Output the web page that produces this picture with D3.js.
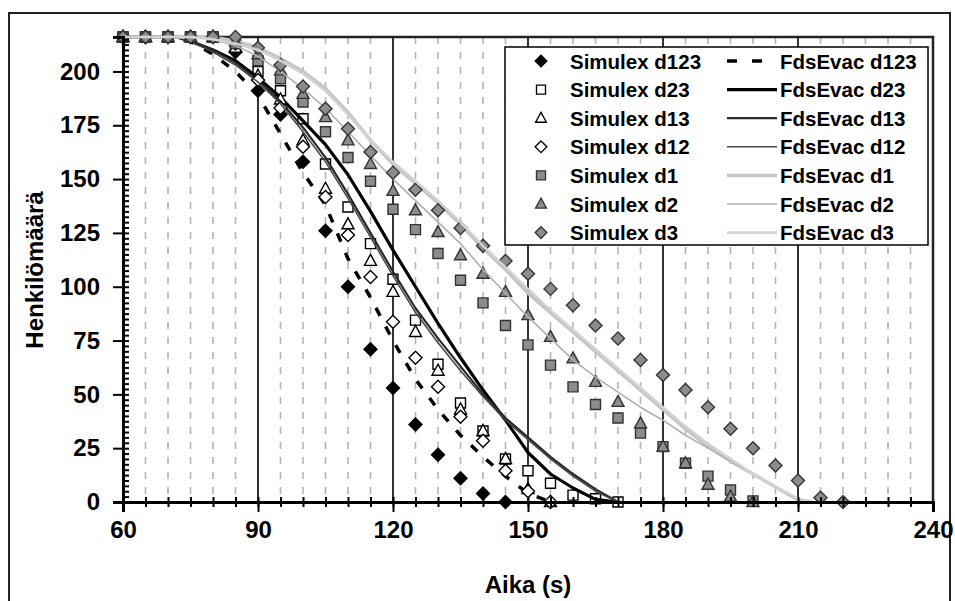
<!DOCTYPE html>
<html>
<head>
<meta charset="utf-8">
<script src="https://cdn.jsdelivr.net/npm/d3@7"></script>
<style>
  body { margin: 0; background: #fff; }
  text { font-family: "Liberation Sans", Arial, sans-serif; font-weight: bold; fill: #000; }
</style>
</head>
<body>
<div id="chart"></div>
<script>
// Simulex: one marker every 5 s
var simTimes = [60,65,70,75,80,85,90,95,100,105,110,115,120,125,130,135,140,145,150,155,160,165,170,175,180,185,190,195,200,205,210,215,220]
var simD123 = [216,216,216,216,216,209,191,180,158,126,100,71,53,36,22,11,4,0]
var simD23  = [216,216,216,216,216,212,200,191,178,157,137,120,103.5,84.5,64,46,33,20,14.5,8.7,3.2,1.5,0]
var simD13  = [216,216,216,216,216,211,198,187,168,145.5,129,112,97.6,79,61,43,33,20,6,0]
var simD12  = [216,216,216,216,216,213,196,183,165,141.7,124,104.5,83.7,67,53.5,39.6,28.5,14.5,5,0]
var simD1   = [216,216,216,216,216,213,205,196.6,185.8,172,160,149,136,126.5,115.4,103,92.5,82,73,63.6,53.5,45.3,39,32,25.7,18,12,5.6,0.5]
var simD2   = [216,216,216,216,216,214,208,200.5,189.6,178.8,168,157,144.5,135.5,125.4,114.6,106,97.6,86.8,76.7,66.7,55.8,46.5,36.5,25.7,18,8,2.5,0]
var simD3   = [216,216,216,216,216,216,211,203,193,182.7,173.4,162.6,153,145,135.5,127.3,119,112,106,99,91.4,82,76,66,59,52,44,34,25,17,10,2,0]

// FdsEvac curves
var fdsTimes = [60,72,75,80,85,90,95,100,105,110,115,120,125,130,135,140,145,150,155,160,165,170,175,180,185,190,195,200,205,210,213]
var fdsD123 = [216,216,214,208,200,189,171,153,138,113,95,75,57,43,31,21,12,4,0]
var fdsD23  = [216,216,214,210,205,197,188,177,166,152,135,117,100,83,67,52,38,23,13,6.5,1.2,0]
var fdsD13  = [216,216,214,210,204,196,186,174,160,143,125,107,90,76,63,50,39,30,21,13,6,0]
var fdsD12  = [216,216,214,209,203,195,185,172,158,141,123,105,88,74,61,49,38,29,20,12,5,0]
var fdsD1   = [216,216,216,216,214,211,206,200,192,181,168,157,148,139,129,118,108,97,88,79,70,61,52,43,34,26,19,13,7,1,0]
var fdsD2   = [216,216,216,215,212,207,200,192,183,172,161,150,140,130,120,108,97,86,76,66,58,51,44,38,31,25,19,13,7,1,0]
var fdsD3   = [216,216,216,215,213,210,205,199,191,180,168,158,149,140,130,119,109,99,89,80,71,62,53,44,35,27,20,13,7,1.5,0]

var xTicks = [60,90,120,150,180,210,240]
var yTicks = [0,25,50,75,100,125,150,175,200]

var series = [
  {sim: "Simulex d123", fds: "FdsEvac d123", sv: simD123, fv: fdsD123, shape: "diamond", fill: "#000", mstroke: "#000", line: "#000", lw: 3.5, dash: "9,12"},
  {sim: "Simulex d23",  fds: "FdsEvac d23",  sv: simD23,  fv: fdsD23,  shape: "square",  fill: "#fff", mstroke: "#000", line: "#000", lw: 3.2},
  {sim: "Simulex d13",  fds: "FdsEvac d13",  sv: simD13,  fv: fdsD13,  shape: "triangle",fill: "#fff", mstroke: "#000", line: "#2a2a2a", lw: 2.2},
  {sim: "Simulex d12",  fds: "FdsEvac d12",  sv: simD12,  fv: fdsD12,  shape: "diamond", fill: "#fff", mstroke: "#000", line: "#444", lw: 1.5},
  {sim: "Simulex d1",   fds: "FdsEvac d1",   sv: simD1,   fv: fdsD1,   shape: "square",  fill: "#8c8c8c", mstroke: "#333", line: "#c4c4c4", lw: 3.5},
  {sim: "Simulex d2",   fds: "FdsEvac d2",   sv: simD2,   fv: fdsD2,   shape: "triangle",fill: "#8c8c8c", mstroke: "#333", line: "#b0b0b0", lw: 1.6},
  {sim: "Simulex d3",   fds: "FdsEvac d3",   sv: simD3,   fv: fdsD3,   shape: "diamond", fill: "#8c8c8c", mstroke: "#333", line: "#d2d2d2", lw: 2.6}
]

var shapes = {
  square: "M-5,-5h10v10h-10Z",
  diamond: "M0,-6.5L6.5,0L0,6.5L-6.5,0Z",
  triangle: "M0,-6.5L6,4.5L-6,4.5Z"
}

var width = 955, height = 601
var x = d3.scaleLinear().domain([60, 240]).range([123, 933])
var y = d3.scaleLinear().domain([0, 216]).range([502, 37])

var svg = d3.select("#chart").append("svg")
  .attr("width", width)
  .attr("height", height)

// outer frame
svg.append("rect")
  .attr("x", 9).attr("y", 13).attr("width", 941).attr("height", 600)
  .attr("fill", "#fff").attr("stroke", "#222").attr("stroke-width", 2)

// grid
svg.append("g").selectAll("line")
  .data(d3.range(65, 240, 5).filter(function(t) { return t % 30 != 0 }))
  .enter().append("line")
  .attr("x1", function(d) { return x(d) }).attr("x2", function(d) { return x(d) })
  .attr("y1", y(216)).attr("y2", y(0))
  .attr("stroke", "#b4b4b4").attr("stroke-width", 1.6).attr("stroke-dasharray", "7,8")

svg.append("g").selectAll("line")
  .data([90, 120, 150, 180, 210])
  .enter().append("line")
  .attr("x1", function(d) { return x(d) }).attr("x2", function(d) { return x(d) })
  .attr("y1", y(216)).attr("y2", y(0))
  .attr("stroke", "#333").attr("stroke-width", 2)

// plot border top/right
svg.append("path")
  .attr("d", "M" + x(60) + "," + y(216) + "H" + x(240) + "V" + y(0))
  .attr("fill", "none").attr("stroke", "#222").attr("stroke-width", 2.5)

var line = d3.line()
  .x(function(d) { return x(d[0]) })
  .y(function(d) { return y(d[1]) })

var plot = svg.append("g")
series.forEach(function(s) {
  var pts = s.sv.map(function(v, i) { return [simTimes[i], v] })
  plot.append("g").selectAll("path")
    .data(pts)
    .enter().append("path")
    .attr("d", shapes[s.shape])
    .attr("transform", function(d) { return "translate(" + x(d[0]) + "," + y(d[1]) + ")" })
    .attr("fill", s.fill).attr("stroke", s.mstroke).attr("stroke-width", 1.4)

  plot.append("path")
    .datum(s.fv.map(function(v, i) { return [fdsTimes[i], v] }))
    .attr("d", line)
    .attr("fill", "none")
    .attr("stroke", s.line)
    .attr("stroke-width", s.lw)
    .attr("stroke-dasharray", s.dash || null)
    .attr("stroke-linejoin", "round")
})

// axes
var yAxis = svg.append("g")
  .attr("transform", "translate(" + x(60) + ",0)")
  .call(d3.axisLeft(y).tickValues(yTicks).tickSize(10).tickPadding(13))
svg.append("g")
  .attr("transform", "translate(" + x(60) + ",0)")
  .call(d3.axisLeft(y).tickValues(d3.range(2.5, 216, 2.5)).tickSize(-6).tickFormat(""))
  .select(".domain").remove()

var xAxis = svg.append("g")
  .attr("transform", "translate(0," + y(0) + ")")
  .call(d3.axisBottom(x).tickValues(xTicks).tickSize(10).tickPadding(9))
svg.append("g")
  .attr("transform", "translate(0," + (y(0) + 5) + ")")
  .call(d3.axisBottom(x).tickValues(d3.range(65, 240, 5)).tickSize(-10).tickFormat(""))
  .select(".domain").remove()

svg.selectAll(".domain").attr("stroke", "#000").attr("stroke-width", 3)
svg.selectAll(".tick line").attr("stroke", "#000").attr("stroke-width", 2)
svg.selectAll(".tick text").style("font-size", "24px").style("font-family", "Liberation Sans, Arial, sans-serif").style("font-weight", "bold")

// axis titles
svg.append("text")
  .attr("x", 528).attr("y", 593)
  .attr("text-anchor", "middle").style("font-size", "24px")
  .text("Aika (s)")
svg.append("text")
  .attr("transform", "translate(43,270) rotate(-90)")
  .attr("text-anchor", "middle").style("font-size", "24px")
  .text("Henkilömäärä")

// legend
var legend = svg.append("g")
legend.append("rect")
  .attr("x", 505).attr("y", 47).attr("width", 423).attr("height", 198)
  .attr("fill", "#fff").attr("stroke", "#000").attr("stroke-width", 1.5)

series.forEach(function(s, i) {
  var ry = 61 + i * 28.6
  legend.append("path")
    .attr("d", shapes[s.shape])
    .attr("transform", "translate(541," + ry + ") scale(0.9)")
    .attr("fill", s.fill).attr("stroke", s.mstroke).attr("stroke-width", 1.5)
  legend.append("text")
    .attr("x", 570).attr("y", ry + 7.5)
    .style("font-size", "20.5px")
    .text(s.sim)
  legend.append("line")
    .attr("x1", 727).attr("x2", 777).attr("y1", ry).attr("y2", ry)
    .attr("stroke", s.line).attr("stroke-width", s.lw)
    .attr("stroke-dasharray", s.dash ? "10,15" : null)
  legend.append("text")
    .attr("x", 780).attr("y", ry + 7.5)
    .style("font-size", "20.5px")
    .text(s.fds)
})
</script>
</body>
</html>
